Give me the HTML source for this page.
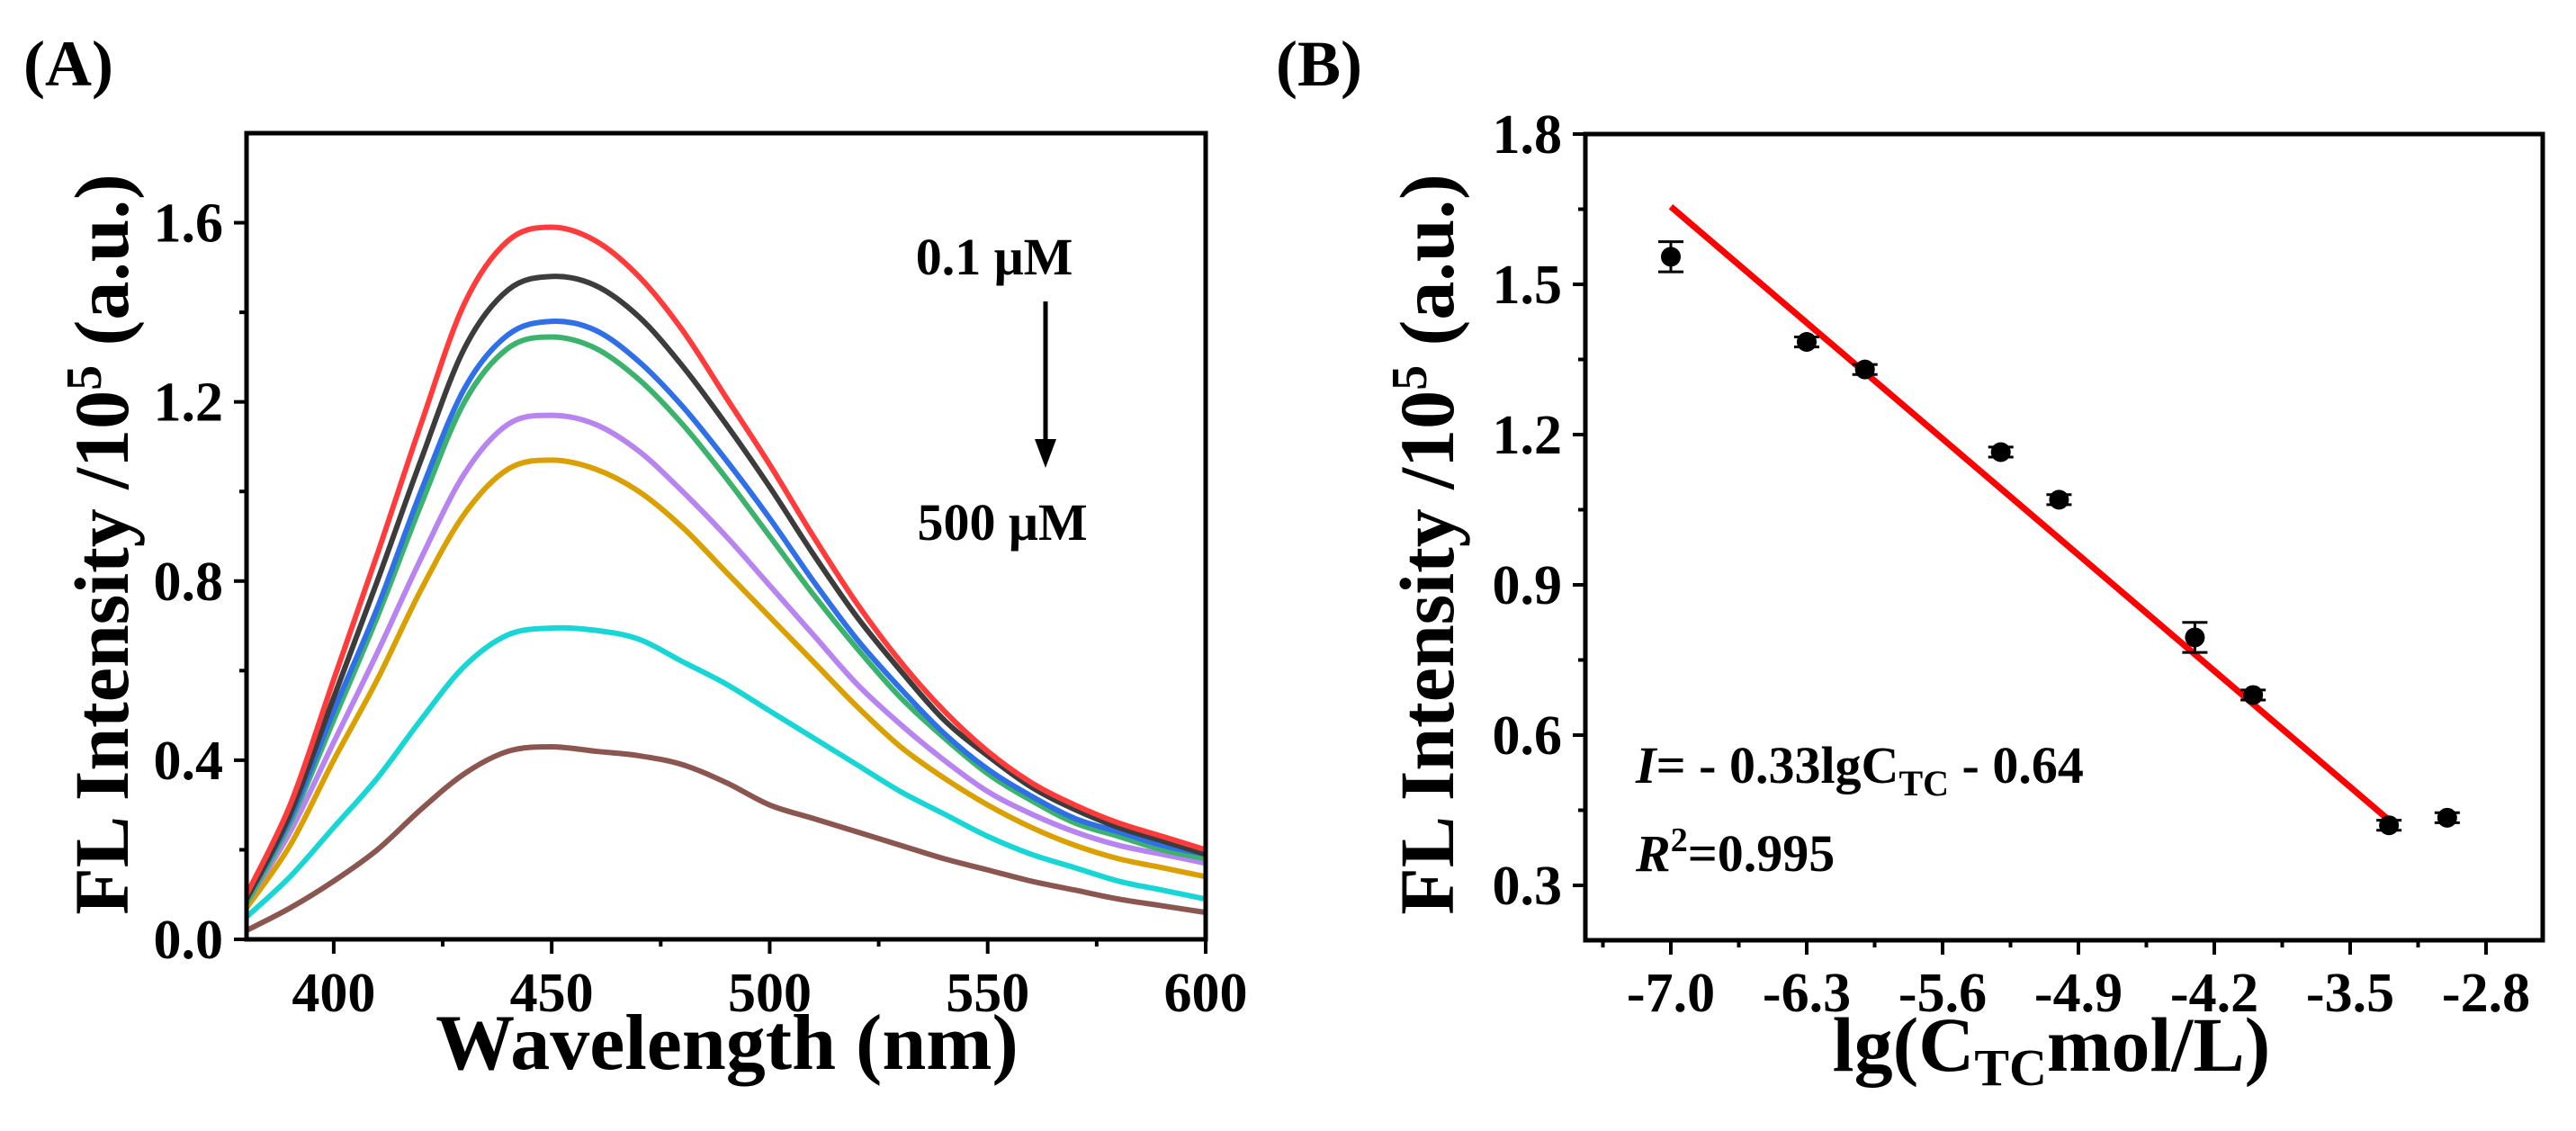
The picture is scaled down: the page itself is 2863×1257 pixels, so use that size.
<!DOCTYPE html>
<html><head><meta charset="utf-8">
<style>
html,body{margin:0;padding:0;background:#fff;}
svg{display:block;font-family:"Liberation Serif","DejaVu Serif",serif;font-weight:bold;}
</style></head>
<body>
<svg id="fig" width="2863" height="1257" viewBox="0 0 2863 1257" xmlns="http://www.w3.org/2000/svg">
<rect width="2863" height="1257" fill="#fff"/>
<g id="panelA"></g>
<g id="panelB"></g>
</svg>
<script>
// ---------- Panel A data ----------
const wavelengths = [380,390,400,410,420,430,440,450,460,470,480,490,500,510,520,530,540,550,560,570,580,590,600];
const seriesColors = ["#ff3b3b","#3c3c3c","#2f6fe8","#3cb36c","#b784f0","#d9a000","#18d6d6","#8b5550"];
const seriesNames = ["red","black","blue","green","violet","orange","cyan","brown"];
const sRed    = [0.10,0.30,0.58,0.86,1.15,1.42,1.56,1.59,1.56,1.48,1.36,1.21,1.06,0.90,0.75,0.62,0.51,0.42,0.35,0.30,0.26,0.23,0.20];
const sBlack  = [0.09,0.28,0.54,0.80,1.07,1.32,1.45,1.48,1.46,1.39,1.28,1.15,1.01,0.86,0.72,0.60,0.49,0.41,0.34,0.29,0.25,0.22,0.19];
const sBlue   = [0.09,0.27,0.51,0.74,1.00,1.23,1.35,1.38,1.36,1.29,1.19,1.07,0.94,0.80,0.67,0.56,0.46,0.38,0.32,0.27,0.24,0.21,0.19];
const sGreen  = [0.08,0.26,0.49,0.72,0.97,1.20,1.32,1.345,1.32,1.25,1.15,1.03,0.90,0.77,0.65,0.54,0.45,0.37,0.31,0.26,0.23,0.20,0.18];
const sViolet = [0.08,0.24,0.44,0.64,0.85,1.04,1.15,1.17,1.15,1.09,1.00,0.90,0.79,0.68,0.57,0.48,0.40,0.33,0.28,0.24,0.21,0.19,0.17];
const sOrange = [0.07,0.21,0.40,0.58,0.78,0.95,1.05,1.07,1.05,1.00,0.92,0.82,0.72,0.62,0.52,0.43,0.36,0.30,0.25,0.21,0.18,0.16,0.14];
const sCyan   = [0.05,0.14,0.25,0.36,0.49,0.61,0.68,0.695,0.69,0.67,0.62,0.57,0.51,0.45,0.39,0.33,0.28,0.23,0.19,0.16,0.13,0.11,0.09];
const sBrown  = [0.02,0.07,0.13,0.20,0.29,0.37,0.42,0.43,0.42,0.41,0.39,0.35,0.30,0.27,0.24,0.21,0.18,0.155,0.13,0.11,0.09,0.075,0.06];
const aXTicks = [400,450,500,550,600];
const aYTicks = [0.0,0.4,0.8,1.2,1.6];

// ---------- Panel B data ----------
const bX   = [-7.0,-6.3,-6.0,-5.3,-5.0,-4.3,-4.0,-3.3,-3.0];
const bY   = [1.555,1.385,1.33,1.165,1.07,0.795,0.68,0.42,0.435];
const bErr = [0.03,0.01,0.01,0.01,0.01,0.03,0.01,0.01,0.01];
const fitSlope = [-0.331];
const fitIntercept = [-0.662];
const fitRange = [-7.0,-3.3];
const bXTicks = [-7.0,-6.3,-5.6,-4.9,-4.2,-3.5,-2.8];
const bYTicks = [0.3,0.6,0.9,1.2,1.5,1.8];

const NS="http://www.w3.org/2000/svg";
function mk(parent,tag,attrs,text){const e=document.createElementNS(NS,tag);for(const k in attrs)e.setAttribute(k,attrs[k]);if(text!==undefined)e.textContent=text;parent.appendChild(e);return e;}

// ---------- Panel A ----------
const A=document.getElementById('panelA');
const aL=274,aR=1340,aT=148,aB=1044;
const ax=v=>aL+(v-380)/(600-380)*(aR-aL);
const ay=v=>aB-(v-0)/(1.8-0)*(aB-aT);
const allSeries=[sRed,sBlack,sBlue,sGreen,sViolet,sOrange,sCyan,sBrown];
function smoothPath(pts){let d=`M${pts[0][0]},${pts[0][1]}`;for(let i=0;i<pts.length-1;i++){const p0=pts[Math.max(0,i-1)],p1=pts[i],p2=pts[i+1],p3=pts[Math.min(pts.length-1,i+2)];const c1x=p1[0]+(p2[0]-p0[0])/6,c1y=p1[1]+(p2[1]-p0[1])/6,c2x=p2[0]-(p3[0]-p1[0])/6,c2y=p2[1]-(p3[1]-p1[1])/6;d+=` C${c1x},${c1y} ${c2x},${c2y} ${p2[0]},${p2[1]}`;}return d;}
for(let s=allSeries.length-1;s>=0;s--){
  const pts=wavelengths.map((w,i)=>[ax(w),ay(allSeries[s][i])]);
  const p=mk(A,'path',{d:smoothPath(pts),fill:'none',stroke:seriesColors[s],'stroke-width':6,'stroke-linejoin':'round'});
  
  
}
const aFrame=mk(A,'rect',{x:aL,y:aT,width:aR-aL,height:aB-aT,fill:'none',stroke:'#000','stroke-width':5});


aYTicks.forEach(v=>{
  mk(A,'line',{x1:aL-14,x2:aL,y1:ay(v),y2:ay(v),stroke:'#000','stroke-width':4});
  const t=mk(A,'text',{x:aL-26,y:ay(v)+21,'font-size':62,'text-anchor':'end'},v.toFixed(1));
  
  
});
[0.2,0.6,1.0,1.4].forEach(v=>mk(A,'line',{x1:aL-8,x2:aL,y1:ay(v),y2:ay(v),stroke:'#000','stroke-width':4}));
aXTicks.forEach(v=>{
  mk(A,'line',{x1:ax(v),x2:ax(v),y1:aB,y2:aB+16,stroke:'#000','stroke-width':4});
  const t=mk(A,'text',{x:ax(v),y:1124,'font-size':62,'text-anchor':'middle'},String(v));
  
  
});
[425,475,525,575].forEach(v=>mk(A,'line',{x1:ax(v),x2:ax(v),y1:aB,y2:aB+8,stroke:'#000','stroke-width':4}));
let t;
t=mk(A,'text',{x:808,y:1188,'font-size':88,'text-anchor':'middle'},'Wavelength (nm)');

t=mk(A,'text',{x:0,y:0,'font-size':86,'text-anchor':'middle',transform:'translate(142,605) rotate(-90)'});
t.innerHTML='FL Intensity /10<tspan dy="-30" font-size="56">5</tspan><tspan dy="30"> (a.u.)</tspan>';

t=mk(A,'text',{x:26,y:95,'font-size':72},'(A)');

t=mk(A,'text',{x:1105,y:305,'font-size':58,'text-anchor':'middle'},'0.1 μM');

t=mk(A,'text',{x:1114,y:600,'font-size':58,'text-anchor':'middle'},'500 μM');

mk(A,'line',{x1:1162,x2:1162,y1:335,y2:490,stroke:'#000','stroke-width':5});
const arr=mk(A,'path',{d:'M1150,488 L1174,488 L1162,520 Z',fill:'#000'});


// ---------- Panel B ----------
const B=document.getElementById('panelB');
const bL=1762,bR=2826,bT=149,bB=1045;
const bx=v=>1857+(v-(-7.0))/(-2.8-(-7.0))*(2763-1857);
const by=v=>316+(v-1.5)/(1.2-1.5)*(483-316);
const fl=mk(B,'line',{x1:bx(fitRange[0]),y1:by(fitSlope[0]*fitRange[0]+fitIntercept[0]),x2:bx(fitRange[1]),y2:by(fitSlope[0]*fitRange[1]+fitIntercept[0]),stroke:'#ff0000','stroke-width':7});

bX.forEach((xv,i)=>{
  const g=mk(B,'g',{});
  
  
  const cx=bx(xv),cy=by(bY[i]),e=bErr[i];
  mk(g,'line',{x1:cx,x2:cx,y1:by(bY[i]+e),y2:by(bY[i]-e),stroke:'#000','stroke-width':3});
  mk(g,'line',{x1:cx-14,x2:cx+14,y1:by(bY[i]+e),y2:by(bY[i]+e),stroke:'#000','stroke-width':3});
  mk(g,'line',{x1:cx-14,x2:cx+14,y1:by(bY[i]-e),y2:by(bY[i]-e),stroke:'#000','stroke-width':3});
  mk(g,'circle',{cx:cx,cy:cy,r:11,fill:'#000'});
});
const bFrame=mk(B,'rect',{x:bL,y:bT,width:bR-bL,height:bB-bT,fill:'none',stroke:'#000','stroke-width':5});

bYTicks.forEach(v=>{
  mk(B,'line',{x1:bL-14,x2:bL,y1:by(v),y2:by(v),stroke:'#000','stroke-width':4});
  const tt=mk(B,'text',{x:bL-26,y:by(v)+21,'font-size':62,'text-anchor':'end'},v.toFixed(1));
  
});
[0.45,0.75,1.05,1.35,1.65].forEach(v=>mk(B,'line',{x1:bL-8,x2:bL,y1:by(v),y2:by(v),stroke:'#000','stroke-width':4}));
bXTicks.forEach(v=>{
  mk(B,'line',{x1:bx(v),x2:bx(v),y1:bB,y2:bB+16,stroke:'#000','stroke-width':4});
  const tt=mk(B,'text',{x:bx(v),y:1124,'font-size':62,'text-anchor':'middle'},v.toFixed(1));
  
});
[-7.35,-6.65,-5.95,-5.25,-4.55,-3.85,-3.15].forEach(v=>mk(B,'line',{x1:bx(v),x2:bx(v),y1:bB,y2:bB+8,stroke:'#000','stroke-width':4}));
t=mk(B,'text',{x:2280,y:1190,'font-size':86,'text-anchor':'middle'});
t.innerHTML='lg(C<tspan dy="16" font-size="58">TC</tspan><tspan dy="-16">mol/L)</tspan>';

t=mk(B,'text',{x:0,y:0,'font-size':86,'text-anchor':'middle',transform:'translate(1615,605) rotate(-90)'});
t.innerHTML='FL Intensity /10<tspan dy="-30" font-size="56">5</tspan><tspan dy="30"> (a.u.)</tspan>';

t=mk(B,'text',{x:1418,y:95,'font-size':72},'(B)');

t=mk(B,'text',{x:1818,y:870,'font-size':58});
t.innerHTML='<tspan font-style="italic">I</tspan>= - 0.33lgC<tspan dy="14" font-size="40">TC</tspan><tspan dy="-14"> - 0.64</tspan>';

t=mk(B,'text',{x:1818,y:968,'font-size':58});
t.innerHTML='<tspan font-style="italic">R</tspan><tspan dy="-22" font-size="38">2</tspan><tspan dy="22">=0.995</tspan>';

</script>
</body></html>
